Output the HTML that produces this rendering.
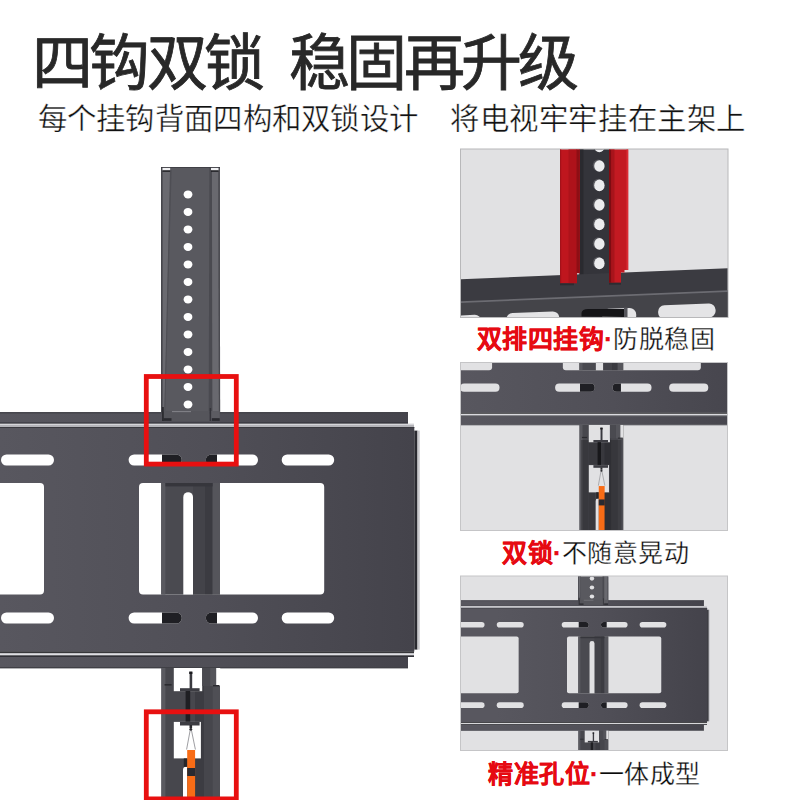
<!DOCTYPE html>
<html lang="zh-CN">
<head>
<meta charset="utf-8">
<style>
html,body{margin:0;padding:0;background:#fff;}
body{width:800px;height:800px;position:relative;overflow:hidden;font-family:"Liberation Sans",sans-serif;}
svg{position:absolute;left:0;top:0;}
.t{position:absolute;white-space:nowrap;line-height:1;}
.title{font-size:61px;font-weight:500;color:#282828;letter-spacing:-3.75px;-webkit-text-stroke:0.8px #282828;}
.sub{font-size:29.4px;font-weight:400;color:#111;-webkit-text-stroke:0.4px #fff;}
.cap{font-size:25px;color:#0a0a0a;letter-spacing:0.5px;-webkit-text-stroke:0.3px #fff;}
.cap b{color:#e60a12;font-weight:700;-webkit-text-stroke:0.35px #e60a12;}
</style>
</head>
<body>
<svg width="800" height="800" viewBox="0 0 800 800">
<defs>
  <linearGradient id="plateG" gradientUnits="userSpaceOnUse" x1="0" y1="0" x2="414" y2="0">
    <stop offset="0" stop-color="#58575f"/>
    <stop offset="0.5" stop-color="#504f57"/>
    <stop offset="1" stop-color="#44434b"/>
  </linearGradient>
  <clipPath id="cp2"><rect x="461" y="363" width="266" height="167"/></clipPath>
  <clipPath id="cp3"><rect x="461" y="576.5" width="266" height="173.5"/></clipPath>
  <clipPath id="cp1"><rect x="461" y="149.5" width="266.5" height="167.5"/></clipPath>
  <g id="m">
    <!-- upper vertical bar -->
    <rect x="161" y="167" width="59" height="254" fill="#59595f"/>
    <path d="M162.5 167 H170.6 L164.5 412 H162.5 Z" fill="#6a6a70"/>
    <rect x="161" y="167" width="1.5" height="254" fill="#46464c"/>
    <path d="M170 170 L171.6 170 L165.2 412 L164.3 412 Z" fill="#4e4e54"/>
    <path d="M209.4 167 H211.9 L212.5 412 H208.7 Z" fill="#4a4a50"/>
    <path d="M211.9 167 H218.3 L218.9 412 H212.5 Z" fill="#69696f"/>
    <path d="M218.3 167 H219.6 L220.2 412 H218.9 Z" fill="#4a4a50"/>
    <rect x="162.5" y="167.6" width="7.6" height="2.8" fill="#f0f0f2"/>
    <rect x="162.5" y="170.4" width="7.6" height="1.4" fill="#1e1e22"/>
    <rect x="211" y="167.6" width="7.5" height="2.8" fill="#f0f0f2"/>
    <rect x="211" y="170.4" width="7.5" height="1.4" fill="#1e1e22"/>
    <rect x="161" y="167" width="59" height="0.8" fill="#3a3a40"/>
    <g fill="currentColor">
      <ellipse cx="188" cy="194.4" rx="4.4" ry="4"/>
      <ellipse cx="188" cy="211.9" rx="4.4" ry="4"/>
      <ellipse cx="188" cy="229.4" rx="4.4" ry="4"/>
      <ellipse cx="188" cy="246.9" rx="4.4" ry="4"/>
      <ellipse cx="188" cy="264.4" rx="4.4" ry="4"/>
      <ellipse cx="188" cy="281.9" rx="4.4" ry="4"/>
      <ellipse cx="188" cy="299.4" rx="4.4" ry="4"/>
      <ellipse cx="188" cy="316.9" rx="4.4" ry="4"/>
      <ellipse cx="188" cy="334.4" rx="4.4" ry="4"/>
      <ellipse cx="188" cy="351.9" rx="4.4" ry="4"/>
      <ellipse cx="188" cy="369.4" rx="4.4" ry="4"/>
      <ellipse cx="188" cy="386.9" rx="4.4" ry="4"/>
      <ellipse cx="188" cy="404.4" rx="4.4" ry="4"/>
    </g>
    <!-- plate top rail -->
    <rect x="-160" y="412" width="568" height="11" fill="url(#plateG)"/>
    <rect x="-160" y="412" width="568" height="1.6" fill="#44444a" opacity="0.8"/>
    <!-- bar overlapping rail, hooks -->
    <rect x="163.5" y="411" width="46" height="10" fill="#55555b"/>
    <rect x="211.1" y="411" width="8.6" height="7.4" fill="#5c5c62"/>
    <rect x="172" y="411.2" width="19" height="0.9" fill="#8a8a90"/>
    <rect x="162" y="407" width="1.8" height="14" fill="#2c2c31"/>
    <rect x="163.5" y="418.2" width="8" height="2.6" fill="#2a2a2f"/>
    <rect x="209.7" y="408" width="1.4" height="13" fill="#34343a"/>
    <rect x="212" y="418.2" width="7.7" height="2.6" fill="#2a2a2f"/>
    <rect x="-160" y="422.6" width="568" height="1.2" fill="#2a2a30"/>
    <rect x="-160" y="423.8" width="574" height="3.4" fill="#b4b4b9"/>
    <rect x="-160" y="423.9" width="574" height="1.1" fill="#d6d6da"/>
    <!-- main plate body -->
    <rect x="-160" y="427.2" width="574.3" height="224.3" fill="url(#plateG)"/>
    <rect x="-160" y="427" width="574.3" height="1" fill="#3a3a40"/>
    <rect x="414.3" y="430.6" width="3.2" height="219" fill="#2a2a30"/>
    <rect x="417.5" y="430.6" width="2.2" height="219" fill="#c8c8cc"/>
    <rect x="-160" y="651.4" width="574" height="1.5" fill="#1c1c20"/>
    <rect x="-160" y="652.9" width="574" height="0.7" fill="#6a6a70"/>
    <rect x="-160" y="653.5" width="574" height="1.8" fill="#dedee2"/>
    <rect x="-160" y="655.3" width="574" height="1.7" fill="#303036"/>
    <!-- bottom rail -->
    <rect x="-160" y="657" width="568" height="10" fill="url(#plateG)"/>
    <rect x="-160" y="667" width="568" height="1.4" fill="#404046"/>
    <!-- slots & windows -->
    <g fill="currentColor">
      <rect x="-76" y="454.5" width="53" height="11" rx="5.5"/>
      <rect x="1" y="454.5" width="53" height="11" rx="5.5"/>
      <rect x="128.6" y="454.5" width="53.2" height="11" rx="5.5"/>
      <rect x="205.8" y="454.5" width="52.2" height="11" rx="5.5"/>
      <rect x="281.7" y="454.5" width="52.5" height="11" rx="5.5"/>
      <rect x="-76" y="612.5" width="53" height="11" rx="5.5"/>
      <rect x="1" y="612.5" width="53" height="11" rx="5.5"/>
      <rect x="128.6" y="612.5" width="53.2" height="11" rx="5.5"/>
      <rect x="205.8" y="612.5" width="52.2" height="11" rx="5.5"/>
      <rect x="281.7" y="612.5" width="52.5" height="11" rx="5.5"/>
      <rect x="-141" y="483" width="185" height="111.5" rx="4"/>
      <rect x="139" y="483" width="185.2" height="111.5" rx="4"/>
    </g>
    <!-- bar seen through slots -->
    <g fill="#1f1f24">
      <path d="M162 454.5 H176.3 A5.5 5.5 0 0 1 176.3 465.5 H162 Z"/>
      <path d="M211.3 454.5 H217 V465.5 H211.3 A5.5 5.5 0 0 1 211.3 454.5 Z"/>
      <path d="M162 612.5 H176.3 A5.5 5.5 0 0 1 176.3 623.5 H162 Z"/>
      <path d="M211.3 612.5 H217 V623.5 H211.3 A5.5 5.5 0 0 1 211.3 612.5 Z"/>
    </g>
    <!-- vertical channel through window -->
    <rect x="161.2" y="483" width="58.8" height="111.5" fill="#4a4a50"/>
    <rect x="161.2" y="483" width="4.2" height="111.5" fill="#59595f"/>
    <rect x="193" y="483" width="12" height="111.5" fill="#434349"/>
    <rect x="205" y="483" width="7.6" height="111.5" fill="#3b3b41"/>
    <rect x="212.6" y="483" width="7.4" height="111.5" fill="#55555b"/>
    <rect x="165.4" y="483" width="47.2" height="3.4" fill="#36363c"/>
    <path d="M183.3 497 A4.85 4.85 0 0 1 193 497 V594.5 H183.3 Z" fill="currentColor"/>

    <!-- lower vertical bar -->
    <rect x="161.4" y="668" width="58.6" height="145" fill="#47474d"/>
    <rect x="161.4" y="668" width="4" height="145" fill="#5a5a60"/>
    <rect x="195" y="668" width="9" height="145" fill="#3c3c42"/>
    <rect x="204" y="668" width="8.7" height="145" fill="#46464c"/>
    <rect x="212.7" y="668" width="7.3" height="145" fill="#4f4f55"/>
    <rect x="173.8" y="668" width="28.4" height="23.2" fill="currentColor"/>
    <rect x="202.2" y="668" width="8" height="18" fill="#4a4a50"/>
    <rect x="210.2" y="668" width="6" height="18" fill="#55555b"/>
    <rect x="216.2" y="668" width="4" height="18" fill="currentColor"/>
    <rect x="164.6" y="684" width="7" height="1.6" fill="#2a2a2f"/>
    <rect x="213" y="685" width="6.5" height="1.4" fill="#2a2a2f"/>
    <rect x="189.6" y="672" width="2.6" height="17" fill="#3a3a40"/>
    <rect x="189.2" y="671.5" width="3.2" height="2.5" fill="#1a1a1e"/>
    <rect x="180" y="688.2" width="19.6" height="3.2" fill="#3c3c42"/>
    <rect x="185.6" y="691" width="4.6" height="31.2" fill="#1f1f23"/>
    <rect x="173.8" y="721.9" width="27.1" height="36.5" fill="currentColor"/>
    <rect x="180" y="721.9" width="19.6" height="3.6" fill="#3c3c42"/>
    <rect x="189.5" y="725" width="2.6" height="3" fill="#2a2a2e"/>
    <path d="M190.3 729.5 L186.6 749.5 M191.3 729.5 L195.4 749.5" stroke="#85858a" stroke-width="0.8" fill="none"/>
    <circle cx="190.8" cy="729.3" r="1.4" fill="#2a2a2e"/>
    <path d="M183 813 V770 Q183 766.7 186 766.7 L187.2 766.7 V813 Z" fill="currentColor"/>
    <rect x="183.8" y="758.4" width="3.4" height="8.4" fill="#26262a"/>
    <rect x="187.2" y="750" width="7.9" height="63" fill="#f86c16"/>
    <rect x="187.2" y="768" width="7.9" height="8" fill="#2a2a30"/>
  </g>
</defs>
<use href="#m" color="#ffffff"/>

<!-- red highlight boxes -->
<rect x="146.3" y="376.5" width="90" height="87.6" fill="none" stroke="#e81010" stroke-width="4.8"/>
<rect x="146.3" y="711.8" width="90" height="87.1" fill="none" stroke="#e81010" stroke-width="4.8"/>

<!-- ===== PANEL 1 ===== -->
<rect x="460.5" y="149" width="267.5" height="168.5" fill="#e1e1e3" stroke="#b8b8ba" stroke-width="1"/>
<g clip-path="url(#cp1)">
  <!-- dark centre of bar -->
  <rect x="579.5" y="140" width="30" height="140" fill="#34343a"/>
  <rect x="579.5" y="140" width="4" height="140" fill="#2a2a2f"/>
  <g fill="#55555b">
    <ellipse cx="598.2" cy="145.8" rx="5.4" ry="5.9"/>
    <ellipse cx="598.2" cy="165.3" rx="5.4" ry="5.9"/>
    <ellipse cx="598.2" cy="184.7" rx="5.4" ry="5.9"/>
    <ellipse cx="598.2" cy="204.2" rx="5.4" ry="5.9"/>
    <ellipse cx="598.2" cy="223.7" rx="5.4" ry="5.9"/>
    <ellipse cx="598.2" cy="243.2" rx="5.4" ry="5.9"/>
    <ellipse cx="598.2" cy="262.7" rx="5.4" ry="5.9"/>
  </g>
  <g fill="#ececee">
    <ellipse cx="599.4" cy="146.5" rx="5.2" ry="5.8"/>
    <ellipse cx="599.4" cy="166" rx="5.2" ry="5.8"/>
    <ellipse cx="599.4" cy="185.4" rx="5.2" ry="5.8"/>
    <ellipse cx="599.4" cy="204.9" rx="5.2" ry="5.8"/>
    <ellipse cx="599.4" cy="224.4" rx="5.2" ry="5.8"/>
    <ellipse cx="599.4" cy="243.9" rx="5.2" ry="5.8"/>
    <ellipse cx="599.4" cy="263.4" rx="5.2" ry="5.8"/>
  </g>
  <!-- plate -->
  <path d="M455 279.4 L735 267.9 L735 320 L455 320 Z" fill="#3b3b41"/>
  <path d="M455 303.2 L735 291.7 L735 320 L455 320 Z" fill="#444449"/>
  <path d="M455 302.4 L735 290.9" stroke="#6c6c72" stroke-width="1.8" fill="none"/>
  <!-- bottom slots -->
  <g fill="#e4e4e6" transform="rotate(-2.3 600 310)">
    <rect x="430" y="309.8" width="51" height="14" rx="6.5"/>
    <rect x="506" y="309.5" width="53" height="14" rx="6.5"/>
    <rect x="602" y="309.2" width="34" height="14" rx="6.5"/>
    <rect x="658" y="307.8" width="57.5" height="14" rx="6.5"/>
  </g>
  <path d="M581.5 316.5 V313 Q582 309 588 309 H624 V317 Z" fill="#141417"/>
  <rect x="624" y="307.5" width="3.5" height="10" fill="#55555b"/>
  <!-- left red flange -->
  <path d="M560 140 H579.8 V273.2 H574 V283.3 H560 Z" fill="#bf161e"/>
  <rect x="568.5" y="140" width="8.5" height="143.3" fill="#ae121a"/>
  <rect x="576.5" y="140" width="3.3" height="133" fill="#8e0e14"/>
  <rect x="560" y="140" width="1.2" height="143.3" fill="#a51119"/>
  <rect x="560" y="283.3" width="14" height="2" fill="#26262b" opacity="0.7"/>
  <!-- right red flange -->
  <path d="M609 140 H628.2 V270 H624.5 V272.5 H621 V282.7 H609 Z" fill="#c31a22"/>
  <rect x="609" y="140" width="2.5" height="142.7" fill="#7e0c12"/>
  <rect x="611.5" y="140" width="3" height="142.7" fill="#a8141b"/>
  <rect x="626.5" y="140" width="1.7" height="130" fill="#db2c34"/>
  <rect x="609" y="282.7" width="12" height="2" fill="#26262b" opacity="0.7"/>
</g>
<!-- ===== PANEL 2 ===== -->
<rect x="460.5" y="362.5" width="267" height="168" fill="#e1e1e3" stroke="#c5c5c7" stroke-width="1"/>
<g clip-path="url(#cp2)"><use href="#m" color="#e1e1e3" transform="translate(459.3,-72.7) scale(0.745)"/>
  <g fill="#000" opacity="0.2">
    <rect x="581" y="440" width="7.6" height="90"/>
    <rect x="588.6" y="493" width="6.8" height="37"/>
    <rect x="610" y="440" width="11.5" height="90"/>
    <rect x="604.4" y="493" width="5.6" height="37"/>
    <rect x="588.6" y="442.6" width="21.4" height="22"/>
  </g>
</g>
<!-- ===== PANEL 3 ===== -->
<rect x="460.5" y="576" width="267" height="174.5" fill="#e1e1e3" stroke="#c5c5c7" stroke-width="1"/>
<g clip-path="url(#cp3)"><use href="#m" color="#e1e1e3" transform="translate(496.25,390.6) scale(0.509)"/></g>
</svg>

<div class="t title" style="left:32px;top:34px;">四钩双锁</div>
<div class="t title" style="left:289px;top:34px;">稳固再升级</div>
<div class="t sub" style="left:37.5px;top:104px;letter-spacing:0.3px;">每个挂钩背面四构和双锁设计</div>
<div class="t sub" style="left:450px;top:104px;letter-spacing:0.6px;">将电视牢牢挂在主架上</div>
<div class="t cap" style="left:476.8px;top:327px;"><b>双排四挂钩·</b>防脱稳固</div>
<div class="t cap" style="left:502px;top:541px;"><b>双锁·</b>不随意晃动</div>
<div class="t cap" style="left:488px;top:762px;"><b>精准孔位·</b>一体成型</div>
</body>
</html>
